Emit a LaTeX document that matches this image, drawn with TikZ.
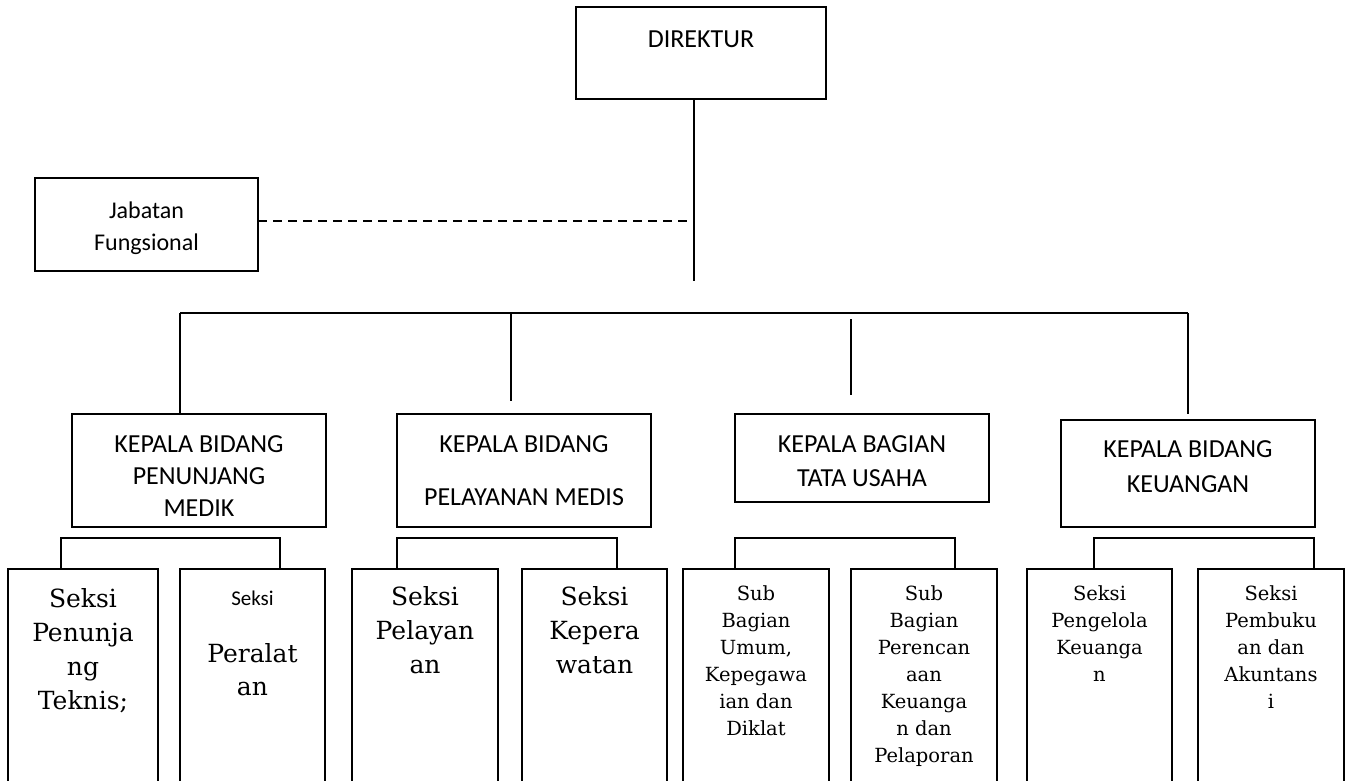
\documentclass[tikz,border=0pt]{standalone}
\usepackage{fontspec}
\setmainfont{Carlito}
\newfontfamily\calib{Carlito}
\newfontfamily\serifb{DejaVu Serif}
\tikzset{
  box/.style={draw, line width=1.5pt, inner sep=0pt, outer sep=0pt, anchor=north west},
  conn/.style={line width=1.5pt},
  dashconn/.style={line width=1.5pt, dash pattern=on 9pt off 6pt},
  lbl/.style={inner sep=0pt, anchor=north, align=center},
  capsfont/.style={font=\calib\fontsize{26}{#1}\selectfont},
  seksibig/.style={font=\serifb\fontsize{25}{#1}\selectfont},
  seksismall/.style={font=\serifb\fontsize{19.5}{27}\selectfont},
}
\begin{document}
\begin{tikzpicture}[x=1pt, y=-1pt]
\useasboundingbox (0,0) rectangle (1345,780);
\clip (0,0) rectangle (1345,780);

% top level
\node[box, minimum width=250pt, minimum height=92pt] (dir) at (576,7) {};
\node[lbl, capsfont=32] (tdir) at (701,21) {\rule{0pt}{26pt}DIREKTUR};
\node[box, minimum width=223pt, minimum height=93pt] (jab) at (35,178) {};
\node[lbl, font=\calib\fontsize{24}{32}\selectfont] (tjab) at (146.5,194) {\rule{0pt}{24pt}Jabatan\\Fungsional};

% heads
\node[box, minimum width=254pt, minimum height=113pt] (kb1) at (72,414) {};
\node[lbl, capsfont=32] (tkb1) at (199,426) {\rule{0pt}{26pt}KEPALA BIDANG\\PENUNJANG\\MEDIK};
\node[box, minimum width=254pt, minimum height=113pt] (kb2) at (397,414) {};
\node[lbl, capsfont=53] (tkb2) at (524,426) {\rule{0pt}{26pt}KEPALA BIDANG\\PELAYANAN MEDIS};
\node[box, minimum width=254pt, minimum height=88pt] (kb3) at (735,414) {};
\node[lbl, capsfont=34] (tkb3) at (862,426) {\rule{0pt}{26pt}KEPALA BAGIAN\\TATA USAHA};
\node[box, minimum width=254pt, minimum height=107pt] (kb4) at (1061,420) {};
\node[lbl, capsfont=35] (tkb4) at (1188,431) {\rule{0pt}{26pt}KEPALA BIDANG\\KEUANGAN};

% sections
\node[box, minimum width=150pt, minimum height=230pt] (s1) at (8,569) {};
\node[box, minimum width=145pt, minimum height=230pt] (s2) at (180,569) {};
\node[box, minimum width=146pt, minimum height=230pt] (s3) at (352,569) {};
\node[box, minimum width=145pt, minimum height=230pt] (s4) at (522,569) {};
\node[box, minimum width=146pt, minimum height=230pt] (s5) at (683,569) {};
\node[box, minimum width=146pt, minimum height=230pt] (s6) at (851,569) {};
\node[box, minimum width=145pt, minimum height=230pt] (s7) at (1027,569) {};
\node[box, minimum width=146pt, minimum height=230pt] (s8) at (1198,569) {};

\node[lbl, seksibig=34] (ts1) at (83,582) {\rule{0pt}{25pt}Seksi\\Penunja\\ng\\Teknis;};
\node[lbl, seksibig=33] (ts2) at (252.5,580) {\rule{0pt}{25pt}{\calib\fontsize{21}{25}\selectfont Seksi}\\[24pt]Peralat\\an};
\node[lbl, seksibig=34] (ts3) at (425,580) {\rule{0pt}{25pt}Seksi\\Pelayan\\an};
\node[lbl, seksibig=34] (ts4) at (594.5,580) {\rule{0pt}{25pt}Seksi\\Kepera\\watan};
\node[lbl, seksismall] (ts5) at (756,580.5) {\rule{0pt}{19.5pt}Sub\\Bagian\\Umum,\\Kepegawa\\ian dan\\Diklat};
\node[lbl, seksismall] (ts6) at (924,580.5) {\rule{0pt}{19.5pt}Sub\\Bagian\\Perencan\\aan\\Keuanga\\n dan\\Pelaporan};
\node[lbl, seksismall] (ts7) at (1099.5,580.5) {\rule{0pt}{19.5pt}Seksi\\Pengelola\\Keuanga\\n};
\node[lbl, seksismall] (ts8) at (1271,580.5) {\rule{0pt}{19.5pt}Seksi\\Pembuku\\an dan\\Akuntans\\i};

% connectors
\coordinate (dstem) at (694,281);
\draw[conn] (dir.south -| dstem) -- (dstem);
\draw[dashconn] ([yshift=3.5pt]jab.east) -- ([yshift=3.5pt]jab.east -| dstem);

\coordinate (busL) at (180,313);
\coordinate (busR) at (1188,313);
\draw[conn] (busL) -- (busR);
\draw[conn] (busL) -- (busL |- kb1.north);
\coordinate (v2) at (511,401);
\draw[conn] (v2 |- busL) -- (v2);
\coordinate (v3a) at (851,319);
\coordinate (v3b) at (851,395);
\draw[conn] (v3a) -- (v3b);
\coordinate (v4) at (1188,414);
\draw[conn] (busR) -- (v4);

\coordinate (b1l) at (61,538);  \coordinate (b1r) at (280,538);
\coordinate (b2l) at (397,538); \coordinate (b2r) at (617,538);
\coordinate (b3l) at (735,538); \coordinate (b3r) at (955,538);
\coordinate (b4l) at (1094,538);\coordinate (b4r) at (1314,538);
\draw[conn] (s1.north -| b1l) -- (b1l) -- (b1r) -- (s2.north -| b1r);
\draw[conn] (s3.north -| b2l) -- (b2l) -- (b2r) -- (s4.north -| b2r);
\draw[conn] (s5.north -| b3l) -- (b3l) -- (b3r) -- (s6.north -| b3r);
\draw[conn] (s7.north -| b4l) -- (b4l) -- (b4r) -- (s8.north -| b4r);
\end{tikzpicture}
\end{document}
